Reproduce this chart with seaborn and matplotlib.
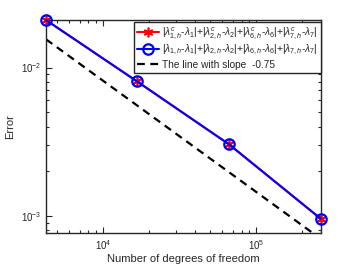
import matplotlib
matplotlib.use("Agg")
import matplotlib.pyplot as plt
import seaborn as sns
import numpy as np
from matplotlib.ticker import LogLocator, NullFormatter

dofs = [4225, 16641, 66049, 263169]
err_c = [0.0209, 0.00805, 0.00304, 0.000955]
err = [0.0209, 0.00805, 0.00304, 0.000955]
slope = -0.75
ref_start = 0.0155
ref_line = [ref_start * (d / dofs[0]) ** slope for d in dofs]

lab_c = (r"|$\lambda^{c}_{1,h}$-$\lambda_1$|+|$\lambda^{c}_{2,h}$-$\lambda_2$|+"
         r"|$\lambda^{c}_{6,h}$-$\lambda_6$|+|$\lambda^{c}_{7,h}$-$\lambda_7$|")
lab = (r"|$\lambda_{1,h}$-$\lambda_1$|+|$\lambda_{2,h}$-$\lambda_2$|+"
       r"|$\lambda_{6,h}$-$\lambda_6$|+|$\lambda_{7,h}$-$\lambda_7$|")
lab_ref = "The line with slope  -0.75"

sns.set_style("ticks")
plt.rcParams['font.family'] = ['Liberation Sans', 'DejaVu Sans']
plt.rcParams['mathtext.fontset'] = 'custom'
plt.rcParams['mathtext.rm'] = 'Liberation Sans'
plt.rcParams['mathtext.it'] = 'Liberation Sans:italic'

fig = plt.figure(figsize=(3.54, 2.73), dpi=100)
ax = fig.add_axes([0.130, 0.1465, 0.776, 0.780])

sns.lineplot(x=dofs, y=err_c, ax=ax, color='red', marker=(6, 2, 0), markersize=7,
             markeredgecolor='red', markeredgewidth=1.2, linewidth=1.5,
             label=lab_c, clip_on=False, zorder=3)
sns.lineplot(x=dofs, y=err, ax=ax, color='blue', marker='o', markersize=7.5,
             markerfacecolor='none', markeredgecolor='blue', markeredgewidth=1.6,
             linewidth=1.5, label=lab, clip_on=False, zorder=4)
sns.lineplot(x=dofs, y=ref_line, ax=ax, color='black', linestyle=(0, (3.5, 2.5)),
             linewidth=1.6, label=lab_ref, zorder=2)

ax.set_xscale('log')
ax.set_yscale('log')
ax.set_xlim(dofs[0], dofs[-1])
ax.set_ylim(7.65e-4, 0.0209)

dark = '#262626'
for s in ax.spines.values():
    s.set_visible(True)
    s.set_color(dark)
    s.set_linewidth(1.0)
ax.tick_params(which='both', direction='in', top=True, right=True, colors=dark,
               labelcolor=dark, labelsize=7)
ax.tick_params(which='major', length=4, width=0.8)
ax.tick_params(which='minor', length=2, width=0.8)
ax.xaxis.set_minor_locator(LogLocator(base=10, subs=np.arange(2, 10)))
ax.yaxis.set_minor_locator(LogLocator(base=10, subs=np.arange(2, 10)))
ax.xaxis.set_minor_formatter(NullFormatter())
ax.yaxis.set_minor_formatter(NullFormatter())

ax.set_xlabel("Number of degrees of freedom", fontsize=8, color=dark, labelpad=2)
ax.set_ylabel("Error", fontsize=8, color=dark, labelpad=4)

leg = ax.legend(loc='upper right', bbox_to_anchor=(1.0, 0.99), borderaxespad=0,
                fontsize=7.3, frameon=True, fancybox=False, handlelength=2.2,
                handletextpad=0.3, borderpad=0.3, labelspacing=0.2)
leg.get_frame().set_edgecolor(dark)
leg.get_frame().set_linewidth(1.0)
leg.get_frame().set_alpha(1)
leg.set_zorder(10)

fig.savefig("out.png", dpi=100)
